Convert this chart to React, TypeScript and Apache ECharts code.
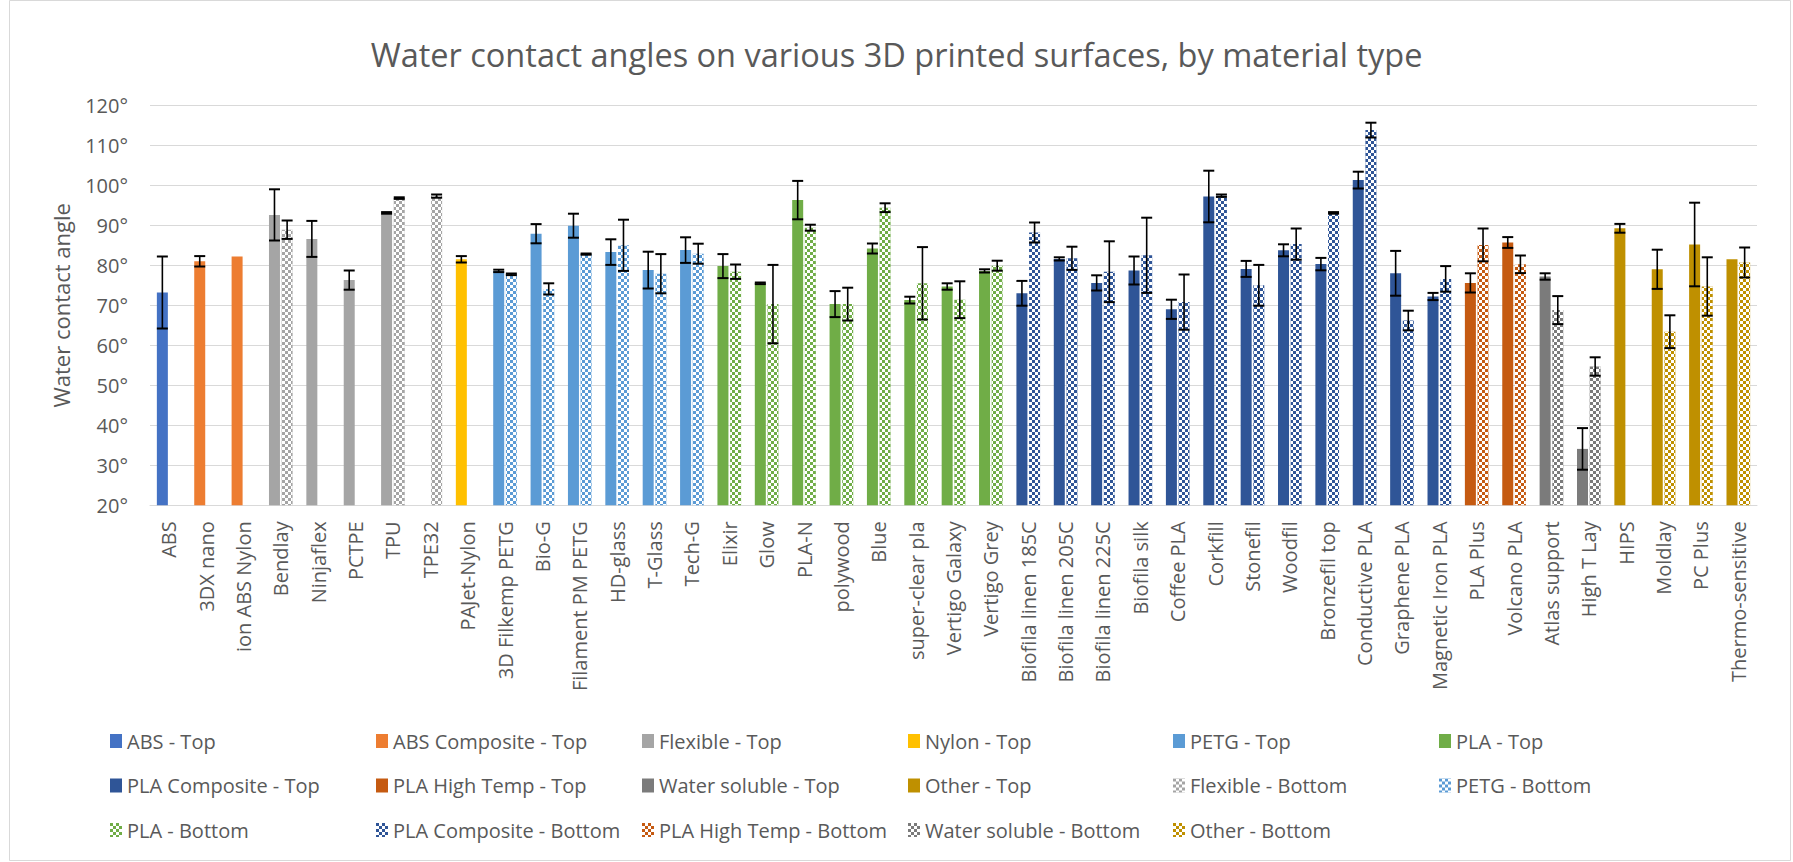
import React, { useEffect, useRef } from "react";
import * as echarts from "echarts";

const categories = [
  "ABS", "3DX nano", "ion ABS Nylon", "Bendlay", "Ninjaflex", "PCTPE", "TPU", "TPE32",
  "PAJet-Nylon", "3D Filkemp PETG", "Bio-G", "Filament PM PETG", "HD-glass", "T-Glass",
  "Tech-G", "Elixir", "Glow", "PLA-N", "polywood", "Blue", "super-clear pla",
  "Vertigo Galaxy", "Vertigo Grey", "Biofila linen 185C", "Biofila linen 205C",
  "Biofila linen 225C", "Biofila silk", "Coffee PLA", "Corkfill", "Stonefil", "Woodfil",
  "Bronzefil top", "Conductive PLA", "Graphene PLA", "Magnetic Iron PLA", "PLA Plus",
  "Volcano PLA", "Atlas support", "High T Lay", "HIPS", "Moldlay", "PC Plus", "Thermo-sensitive",
];

const materialOfCategory = [
  "ABS", "ABS Composite", "ABS Composite", "Flexible", "Flexible", "Flexible", "Flexible", "Flexible",
  "Nylon", "PETG", "PETG", "PETG", "PETG", "PETG",
  "PETG", "PLA", "PLA", "PLA", "PLA", "PLA", "PLA",
  "PLA", "PLA", "PLA Composite", "PLA Composite",
  "PLA Composite", "PLA Composite", "PLA Composite", "PLA Composite", "PLA Composite", "PLA Composite",
  "PLA Composite", "PLA Composite", "PLA Composite", "PLA Composite", "PLA High Temp",
  "PLA High Temp", "Water soluble", "Water soluble", "Other", "Other", "Other", "Other",
];

const topAngle = [
  73.2, 81.0, 82.2, 92.6, 86.6, 76.3, 93.1, null,
  81.5, 78.6, 87.9, 89.9, 83.3, 78.8,
  83.8, 79.8, 75.5, 96.3, 70.3, 84.2, 71.3,
  74.7, 78.6, 73.0, 81.6,
  75.6, 78.7, 69.0, 97.2, 79.1, 83.75,
  80.3, 101.3, 78.0, 72.2, 75.6,
  85.7, 77.2, 34.1, 89.25, 79.0, 85.2, 81.5,
];
const topError = [
  9.0, 1.3, 0, 6.4, 4.5, 2.4, 0.2, 0,
  0.8, 0.3, 2.4, 3.0, 3.2, 4.6,
  3.2, 3.0, 0.2, 4.8, 3.25, 1.25, 0.85,
  0.8, 0.4, 3.1, 0.4,
  1.9, 3.5, 2.4, 6.45, 2.0, 1.5,
  1.55, 2.1, 5.6, 0.9, 2.4,
  1.35, 0.8, 5.2, 1.1, 4.9, 10.45, 0,
];
const bottomAngle = [
  null, null, null, 88.9, null, null, 96.8, 97.3,
  null, 77.75, 74.1, 82.8, 85.0, 77.9,
  82.9, 78.4, 70.3, 89.4, 70.3, 94.4, 75.5,
  71.4, 79.9, 88.2, 81.75,
  78.4, 82.5, 70.8, 97.4, 75.0, 85.3,
  93.1, 113.8, 66.2, 76.6, 85.1,
  80.25, 68.8, 54.7, null, 63.4, 74.7, 80.7,
];
const bottomError = [
  0, 0, 0, 2.3, 0, 0, 0.2, 0.4,
  0, 0.2, 1.4, 0.15, 6.4, 4.9,
  2.5, 1.8, 9.8, 0.75, 4.1, 1.1, 9.05,
  4.6, 1.25, 2.5, 2.9,
  7.6, 9.4, 6.9, 0.3, 5.1, 3.9,
  0.2, 1.85, 2.45, 3.2, 4.1,
  2.2, 3.5, 2.3, 0, 4.1, 7.3, 3.75,
];

const topMaterials = [
  "ABS", "ABS Composite", "Flexible", "Nylon", "PETG", "PLA",
  "PLA Composite", "PLA High Temp", "Water soluble", "Other",
];
const bottomMaterials = [
  "Flexible", "PETG", "PLA", "PLA Composite", "PLA High Temp", "Water soluble", "Other",
];
const materialColors: Record<string, string> = {
  "ABS": "#4472C4",
  "ABS Composite": "#ED7D31",
  "Flexible": "#A5A5A5",
  "Nylon": "#FFC000",
  "PETG": "#5B9BD5",
  "PLA": "#70AD47",
  "PLA Composite": "#2F5597",
  "PLA High Temp": "#C55A11",
  "Water soluble": "#7B7B7B",
  "Other": "#BF9000",
};

const Y_MIN = 20;
const Y_MAX = 120;
const Y_STEP = 10;

const BAR_WIDTH = 11;
const BAR_GAP = 0.15;
const CAP = 11;
const TEXT = "#595959";
const GRID = "#D9D9D9";
const FONT = "'Open Sans', 'Noto Sans', sans-serif";

const LEGEND_COLUMNS_X = [110, 376, 642, 908, 1173, 1439];
const LEGEND_TOP = 729;

const checker = {
  symbol: "rect",
  symbolSize: 1,
  dashArrayX: [[3, 3], [0, 3, 3, 0]],
  dashArrayY: [3, 0],
  rotation: 0,
  color: "#ffffff",
};

export default function App() {
  const ref = useRef<HTMLDivElement>(null);

  useEffect(() => {
    if (!ref.current) return;
    const chart = echarts.init(ref.current, null, { renderer: "svg" });

    const halfStep = (BAR_WIDTH + BAR_WIDTH * BAR_GAP) / 2;

    const topSeries = topMaterials.map((m) => ({
      name: `${m} - Top`,
      type: "bar",
      stack: "top",
      barWidth: BAR_WIDTH,
      barGap: `${BAR_GAP * 100}%`,
      itemStyle: { color: materialColors[m] },
      data: categories.map((_, i) =>
        materialOfCategory[i] === m && topAngle[i] != null ? topAngle[i] : null
      ),
    }));
    const bottomSeries = bottomMaterials.map((m) => ({
      name: `${m} - Bottom`,
      type: "bar",
      stack: "bottom",
      barWidth: BAR_WIDTH,
      barGap: `${BAR_GAP * 100}%`,
      itemStyle: { color: materialColors[m], decal: checker },
      data: categories.map((_, i) =>
        materialOfCategory[i] === m && bottomAngle[i] != null ? bottomAngle[i] : null
      ),
    }));

    const legendNames = [...topSeries.map((s) => s.name), ...bottomSeries.map((s) => s.name)];
    const legends = LEGEND_COLUMNS_X.map((x, c) => ({
      orient: "vertical",
      left: x,
      top: LEGEND_TOP,
      padding: 0,
      itemWidth: 12,
      itemHeight: 14,
      itemGap: 20.5,
      icon: "rect",
      data: legendNames.filter((_, k) => k % 6 === c),
      textStyle: { fontFamily: FONT, fontSize: 20, color: TEXT, lineHeight: 24 },
    }));

    const errData = (vals: (number | null)[], errs: number[]) =>
      vals
        .map((v, i) => (v != null && errs[i] > 0 ? [i, v, errs[i]] : null))
        .filter((d) => d != null);

    const errorSeries = (data: any[], offset: number) => ({
      type: "custom",
      silent: true,
      z: 10,
      encode: { x: 0, y: 1 },
      data,
      renderItem: (params: any, api: any) => {
        const idx = api.value(0);
        const v = api.value(1);
        const e = api.value(2);
        const hi = api.coord([idx, v + e]);
        const lo = api.coord([idx, v - e]);
        const x = hi[0] + offset;
        const style = { stroke: "#000000", lineWidth: 2 };
        return {
          type: "group",
          children: [
            { type: "line", shape: { x1: x, y1: hi[1], x2: x, y2: lo[1] }, style: { stroke: "#000000", lineWidth: 1.6 } },
            { type: "line", shape: { x1: x - CAP / 2, y1: hi[1], x2: x + CAP / 2, y2: hi[1] }, style },
            { type: "line", shape: { x1: x - CAP / 2, y1: lo[1], x2: x + CAP / 2, y2: lo[1] }, style },
          ],
        };
      },
    });

    chart.setOption({
      animation: false,
      backgroundColor: "#ffffff",
      textStyle: { fontFamily: FONT },
      title: {
        text: "Water contact angles on various 3D printed surfaces, by material type",
        left: "center",
        top: 34,
        padding: 0,
        textStyle: { fontFamily: FONT, fontSize: 32.5, fontWeight: "normal", color: TEXT, lineHeight: 40 },
      },
      graphic: [
        {
          type: "rect",
          shape: { x: 9.5, y: 0.5, width: 1781, height: 860 },
          style: { fill: "none", stroke: GRID, lineWidth: 1 },
          silent: true,
          z: -10,
        },
      ],
      grid: { left: 150, right: 36, top: 105.3, bottom: 356.7, containLabel: false },
      legend: legends,
      xAxis: {
        type: "category",
        data: categories,
        axisTick: { show: false },
        axisLine: { lineStyle: { color: GRID, width: 1 } },
        axisLabel: { interval: 0, rotate: 90, margin: 16, fontSize: 20, color: TEXT, fontFamily: FONT },
      },
      yAxis: {
        type: "value",
        min: Y_MIN,
        max: Y_MAX,
        interval: Y_STEP,
        name: "Water contact angle",
        nameLocation: "middle",
        nameGap: 78,
        nameTextStyle: { fontFamily: FONT, fontSize: 22, color: TEXT },
        axisLine: { show: false },
        axisTick: { show: false },
        splitLine: { lineStyle: { color: GRID, width: 1 } },
        axisLabel: { formatter: "{value}°", fontSize: 20, color: TEXT, margin: 22, fontFamily: FONT },
      },
      series: [
        ...topSeries,
        ...bottomSeries,
        errorSeries(errData(topAngle, topError), -halfStep),
        errorSeries(errData(bottomAngle, bottomError), halfStep),
      ],
    });

    return () => chart.dispose();
  }, []);

  return (
    <div
      ref={ref}
      style={{ position: "fixed", left: 0, top: 0, width: "1793px", height: "862px", background: "#fff" }}
    />
  );
}
